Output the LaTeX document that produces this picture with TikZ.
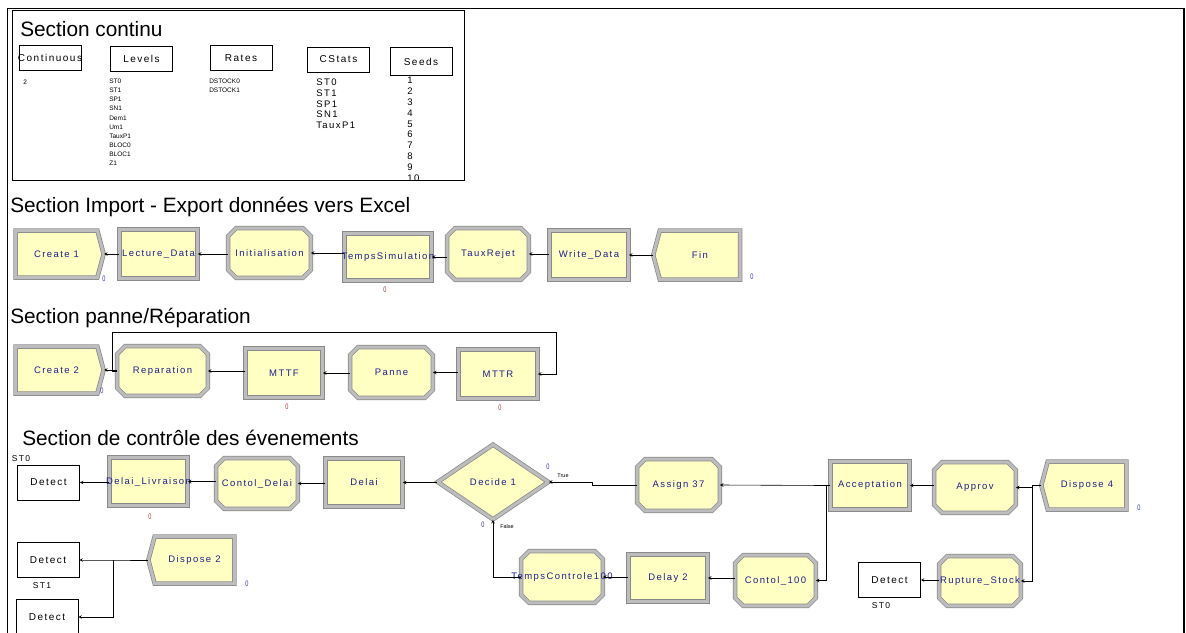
\documentclass[tikz,border=0pt]{standalone}
\usepackage{fontspec}
\setmainfont{Liberation Sans}
\newfontfamily\arenafont[LetterSpace=15]{Liberation Sans}
\usetikzlibrary{shapes.symbols,shapes.geometric}
\definecolor{modfill}{HTML}{FFFFC4}
\definecolor{modedge}{HTML}{8A8A8A}
\definecolor{modband}{HTML}{BDBDBD}
\definecolor{modtext}{HTML}{1E1E8C}
\definecolor{cntblue}{HTML}{3030C8}
\definecolor{cntred}{HTML}{B83030}
% rectangle with cut corners, for the assign-like modules
\makeatletter
\newdimen\octcut \octcut=8pt
\pgfdeclareshape{octobox}{%
  \inheritsavedanchors[from=rectangle]%
  \inheritanchorborder[from=rectangle]%
  \inheritanchor[from=rectangle]{center}%
  \inheritanchor[from=rectangle]{north}%
  \inheritanchor[from=rectangle]{south}%
  \inheritanchor[from=rectangle]{east}%
  \inheritanchor[from=rectangle]{west}%
  \inheritanchor[from=rectangle]{north east}%
  \inheritanchor[from=rectangle]{north west}%
  \inheritanchor[from=rectangle]{south east}%
  \inheritanchor[from=rectangle]{south west}%
  \inheritanchor[from=rectangle]{text}%
  \inheritanchor[from=rectangle]{mid}%
  \inheritanchor[from=rectangle]{base}%
  \backgroundpath{%
    \pgf@process{\southwest}\pgf@xa=\pgf@x \pgf@ya=\pgf@y
    \pgf@process{\northeast}\pgf@xb=\pgf@x \pgf@yb=\pgf@y
    \pgfpathmoveto{\pgfqpoint{\dimexpr\pgf@xa+\octcut\relax}{\pgf@ya}}%
    \pgfpathlineto{\pgfqpoint{\dimexpr\pgf@xb-\octcut\relax}{\pgf@ya}}%
    \pgfpathlineto{\pgfqpoint{\pgf@xb}{\dimexpr\pgf@ya+\octcut\relax}}%
    \pgfpathlineto{\pgfqpoint{\pgf@xb}{\dimexpr\pgf@yb-\octcut\relax}}%
    \pgfpathlineto{\pgfqpoint{\dimexpr\pgf@xb-\octcut\relax}{\pgf@yb}}%
    \pgfpathlineto{\pgfqpoint{\dimexpr\pgf@xa+\octcut\relax}{\pgf@yb}}%
    \pgfpathlineto{\pgfqpoint{\pgf@xa}{\dimexpr\pgf@yb-\octcut\relax}}%
    \pgfpathlineto{\pgfqpoint{\pgf@xa}{\dimexpr\pgf@ya+\octcut\relax}}%
    \pgfpathclose
  }%
}
\makeatother
\tikzset{
  modtxt/.style={font=\arenafont\fontsize{9.5}{10}\selectfont,text=modtext,inner sep=0pt},
  mod/.style={draw=modedge,line width=0.75pt,double=modband,double distance=3pt,fill=modfill,
    minimum width=79,minimum height=49,inner sep=0pt,label={[modtxt]center:#1}},
  proc/.style={mod=#1,rectangle},
  octo/.style={mod=#1,octobox},
  create/.style={mod=#1,signal,signal to=east,signal pointer angle=150,minimum width=88,minimum height=47},
  dispose/.style={mod=#1,signal,signal to=west,signal pointer angle=150,minimum width=87,minimum height=47},
  detect/.style={draw,line width=0.6pt,fill=white,minimum width=62,minimum height=35,inner sep=0pt,
    label={[font=\arenafont\fontsize{10}{10}\selectfont,inner sep=0pt]center:Detect}},
  hdr/.style={draw,line width=0.6pt,minimum width=62,minimum height=25,inner sep=0pt,
    label={[font=\arenafont\fontsize{10}{10}\selectfont,inner sep=0pt]center:#1}},
  title/.style={font=\fontsize{20.8}{22}\selectfont,anchor=base west,inner sep=0pt},
  tiny/.style={font=\fontsize{6.5}{9.05}\selectfont,align=left,anchor=north west,inner sep=0pt},
  lst/.style={font=\arenafont\fontsize{9.5}{10.8}\selectfont,align=left,anchor=north west,inner sep=0pt},
  tag/.style={font=\arenafont\fontsize{8.5}{9}\selectfont,inner sep=0pt},
  cnt/.style={font=\fontsize{8}{8}\selectfont,xscale=0.7,inner sep=0pt},
  branch/.style={font=\fontsize{5.5}{6}\selectfont,inner sep=0pt}
}
\begin{document}
\begin{tikzpicture}[>=stealth,x=1pt,y=-1pt,line width=0.6pt]
\useasboundingbox (0,0) rectangle (1186,632);
\draw[line width=1.6pt] (7.5,645) -- (7.5,8.5) -- (1184,8.5) -- (1184,645);

% section continu
\draw[line width=0.8pt] (12,10) rectangle (464,180);
\node[title] (t0) at (20,36) {Section continu};
\node[hdr=Continuous] (cont) at (50,58) {};
\node[hdr=Levels] (lev) at (141.5,59) {};
\node[hdr=Rates] (rat) at (241,58) {};
\node[hdr=CStats] (cst) at (338.5,59.5) {};
\node[hdr=Seeds,minimum height=28] (sd) at (421,61.5) {};
\node[tiny] (contv) at (23,79.5) {2};
\node[tiny] (levlst) at (109,79) {ST0\\ST1\\SP1\\SN1\\Dem1\\Um1\\TauxP1\\BLOC0\\BLOC1\\Z1};
\node[tiny] (ratlst) at (209,79) {DSTOCK0\\DSTOCK1};
\node[lst] (cstlst) at (316,78.5) {ST0\\ST1\\SP1\\SN1\\TauxP1};
\node[lst] (sdlst) at (407,77) {1\\2\\3\\4\\5\\6\\7\\8\\9\\10};

% import / export
\node[title] (t1) at (10,212) {Section Import - Export données vers Excel};
\node[create=Create 1] (cr1) at (56.5,254) {};
\node[proc=Lecture\_Data,minimum width=78] (lect) at (158.5,254) {};
\node[octo=Initialisation,minimum width=82] (init) at (269.5,253) {};
\node[proc=TempsSimulation,minimum width=87,minimum height=47] (tsim) at (388,257) {};
\node[octo=TauxRejet,minimum width=81,minimum height=51] (rej) at (488,254) {};
\node[proc=Write\_Data] (wrt) at (589,255) {};
\node[dispose=Fin,minimum height=49] (fin) at (700,255) {};
\draw[<-] (cr1.east) -- (cr1.east -| lect.west);
\draw[<-] (lect.east) -- (lect.east -| init.west);
\draw[<-] (init.east) -- (init.east -| tsim.west);
\draw[<-] (tsim.east) -- (tsim.east -| rej.west);
\draw[<-] (rej.east) -- (rej.east -| wrt.west);
\draw[<-] (wrt.east) -- (wrt.east -| fin.west);
\node[cnt,text=cntblue] (n1) at (104,279) {0};
\node[cnt,text=cntred] (n2) at (385,290) {0};
\node[cnt,text=cntblue] (n3) at (752,277) {0};

% panne / reparation
\node[title] (t2) at (10,323) {Section panne/Réparation};
\node[create=Create 2] (cr2) at (56.5,370) {};
\node[octo=Reparation,minimum width=90] (rep) at (162.5,371) {};
\node[proc=MTTF,minimum width=77] (mttf) at (284,373) {};
\node[octo=Panne,minimum width=82,minimum height=50] (pan) at (391.5,372.5) {};
\node[proc=MTTR] (mttr) at (498,374) {};
\coordinate (lp) at (112,332);
\draw[<-] (cr2.east) -- (cr2.east -| rep.west);
\draw[<-] (rep.east) -- (rep.east -| mttf.west);
\draw[<-] (mttf.east) -- (mttf.east -| pan.west);
\draw[<-] (pan.east) -- (pan.east -| mttr.west);
\draw[<-] (mttr.east) -- ++(18,0) |- (lp) |- (rep.west);
\node[cnt,text=cntblue] (n4) at (102,391) {0};
\node[cnt,text=cntred] (n5) at (287,407) {0};
\node[cnt,text=cntred] (n6) at (500,408) {0};

% controle des evenements
\node[title] (t3) at (22,445) {Section de contrôle des évenements};
\node[detect] (det0) at (48.5,482.5) {};
\node[tag] (st0a) at (21,459) {ST0};
\node[proc=Delai\_Livraison,minimum width=78,minimum height=48] (livr) at (148.5,481.5) {};
\node[octo=Contol\_Delai,minimum width=81,minimum height=50] (cdel) at (257,483.5) {};
\node[proc=Delai,minimum width=77,minimum height=48] (dlai) at (364,482.5) {};
\node[mod=Decide 1,diamond,aspect=1.45,minimum width=111,minimum height=75] (dec) at (493,482) {};
\node[octo=Assign 37,minimum width=82,minimum height=51] (asg) at (678.5,485) {};
\node[proc=Acceptation,minimum height=48] (acc) at (870,485.5) {};
\node[octo=Approv,minimum width=81,minimum height=50] (appr) at (975,487.5) {};
\node[dispose=Dispose 4,minimum width=85,minimum height=48] (dsp4) at (1087,485.5) {};
\node[octo=TempsControle100,minimum width=81,minimum height=51] (tc) at (562,577) {};
\node[proc=Delay 2,minimum height=47] (dly) at (668,578) {};
\node[octo=Contol\_100,minimum width=80,minimum height=50] (c100) at (775.5,580.5) {};
\node[detect] (det3) at (889.5,580) {};
\node[tag] (st0b) at (881,606) {ST0};
\node[octo=Rupture\_Stock,minimum width=81] (rupt) at (980,581) {};
\coordinate (accin) at (826,485.5);
\coordinate (dspin) at (1032,487.5);
\draw[<-] (det0.east) -- (det0.east -| livr.west);
\draw[<-] (livr.east) -- (livr.east -| cdel.west);
\draw[<-] (cdel.east) -- (cdel.east -| dlai.west);
\draw[<-] (dlai.east) -- (dlai.east -| dec.west);
\draw[<-] (dec.east) -- ++(43,0) |- (asg.west);
\draw[<-] (dec.south) |- (tc.west);
\draw[<-] (tc.east) -- (tc.east -| dly.west);
\draw[<-] (dly.east) -- (dly.east -| c100.west);
\draw[<-] (asg.east) -- (accin) -- (acc.west);
\draw[<-] (c100.east) -| (accin);
\draw[<-] (acc.east) -- (acc.east -| appr.west);
\draw[<-] (appr.east) -- (dspin) |- (dsp4.west);
\draw[<-] (rupt.east) -| (dspin);
\draw[<-] (det3.east) -- (det3.east -| rupt.west);
\node[cnt,text=cntred] (n7) at (150,517) {0};
\node[cnt,text=cntblue] (n8) at (548,467) {0};
\node[branch] (tru) at (563,476) {True};
\node[cnt,text=cntblue] (n9) at (483,525) {0};
\node[branch] (fls) at (507,527) {False};
\node[cnt,text=cntblue] (n10) at (1139,508) {0};

% detect -> dispose 2
\node[detect] (det1) at (48,560) {};
\node[tag] (st1) at (42,586) {ST1};
\node[detect] (det2) at (47,617) {};
\node[dispose=Dispose 2,minimum width=86] (dsp2) at (194.5,560) {};
\coordinate (d2in) at (113,560);
\draw[<-] (det1.east) -- (d2in) -- (dsp2.west);
\draw[<-] (det2.east) -| (d2in);
\node[cnt,text=cntblue] (n11) at (247,584) {0};
\end{tikzpicture}
\end{document}
